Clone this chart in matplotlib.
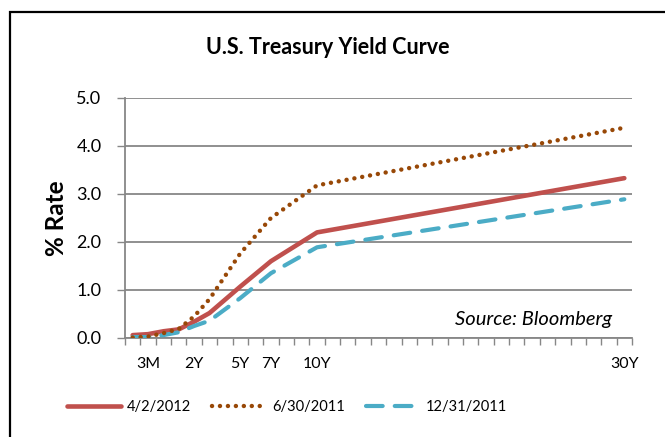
import numpy as np
import matplotlib
matplotlib.use("Agg")
import matplotlib.pyplot as plt
from matplotlib.patches import Rectangle

plt.rcParams['font.family'] = ['Lato', 'DejaVu Sans']

# ---- data -------------------------------------------------------------
# category slots: 1M, 3M, 6M, 1Y, 2Y, 3Y, 4Y ... 30Y  (33 slots)
maturities = ['1M', '3M', '6M', '1Y', '2Y', '3Y', '5Y', '7Y', '10Y', '30Y']
slot = [0, 1, 2, 3, 4, 5, 7, 9, 12, 32]

yield_apr2012 = [0.06, 0.08, 0.14, 0.18, 0.34, 0.52, 1.07, 1.60, 2.20, 3.33]
yield_jun2011 = [0.01, 0.03, 0.10, 0.19, 0.45, 0.81, 1.76, 2.50, 3.18, 4.38]
yield_dec2011 = [0.02, 0.02, 0.06, 0.12, 0.25, 0.36, 0.83, 1.35, 1.89, 2.89]

label_names = ['3M', '2Y', '5Y', '7Y', '10Y', '30Y']
label_slots = [1, 4, 7, 9, 12, 32]
n_slots = 33

red = '#C0504D'
brown = '#984807'
teal = '#4BACC6'
grid_c = '#878787'

fig = plt.figure(figsize=(6.65, 4.37), dpi=100)
# chart frame
fig.patches.append(Rectangle((10/665, -0.1), 1.0, 1 - 12/437 + 0.1,
                             transform=fig.transFigure, fill=False,
                             edgecolor='k', linewidth=1.6))

ax = fig.add_axes([125/665, 1 - 338/437, (632 - 125)/665, (338 - 98)/437])

ax.plot(slot, yield_apr2012, color=red, lw=3.3, solid_capstyle='round',
        solid_joinstyle='round', label='4/2/2012', zorder=3)
ax.plot(slot, yield_jun2011, color=brown, lw=3.2, linestyle=(0, (0.01, 1.78)),
        dash_capstyle='round', label='6/30/2011', zorder=4)
ax.plot(slot, yield_dec2011, color=teal, lw=3.0, linestyle=(0, (4.0, 2.9)),
        dash_capstyle='round', label='12/31/2011', zorder=3)

ax.set_xlim(-0.5, n_slots - 0.5)
ax.set_ylim(0, 5)
ax.set_yticks(np.arange(0, 5.01, 1.0))
ax.set_yticklabels(['%.1f' % v for v in np.arange(0, 5.01, 1.0)], fontsize=13)
ax.yaxis.grid(True, color=grid_c, lw=1.3)
ax.set_axisbelow(True)

# tick marks at slot boundaries, labels at slot centres
ax.set_xticks(np.arange(-0.5, n_slots, 1.0))
ax.set_xticklabels([])
ax.set_xticks(label_slots, minor=True)
ax.set_xticklabels(label_names, minor=True, fontsize=11.5)
ax.tick_params(axis='x', which='major', length=5, width=1.0, color=grid_c)
ax.tick_params(axis='x', which='minor', length=0, pad=14)
ax.tick_params(axis='y', length=6, width=1.0, color=grid_c, pad=11)

for s in ['top', 'right']:
    ax.spines[s].set_visible(False)
for s in ['left', 'bottom']:
    ax.spines[s].set_color(grid_c)
    ax.spines[s].set_linewidth(1.3)

ax.set_ylabel('% Rate', fontsize=17.5, fontweight='bold', labelpad=6)
fig.text(328/665, 1 - 48/437, 'U.S. Treasury Yield Curve', ha='center',
         va='center', fontsize=15.5, fontweight='bold')
ax.text(612/665, 1 - 320/437, 'Source: Bloomberg', transform=fig.transFigure,
        ha='right', va='center', fontsize=14.5, style='italic')

fig.legend(loc='center left', bbox_to_anchor=(55/665, 1 - 407/437), ncol=3,
           frameon=False, fontsize=10.5, handlelength=3.7, handletextpad=0.45,
           columnspacing=1.4, borderpad=0.3)

fig.savefig('out.png', dpi=100)
